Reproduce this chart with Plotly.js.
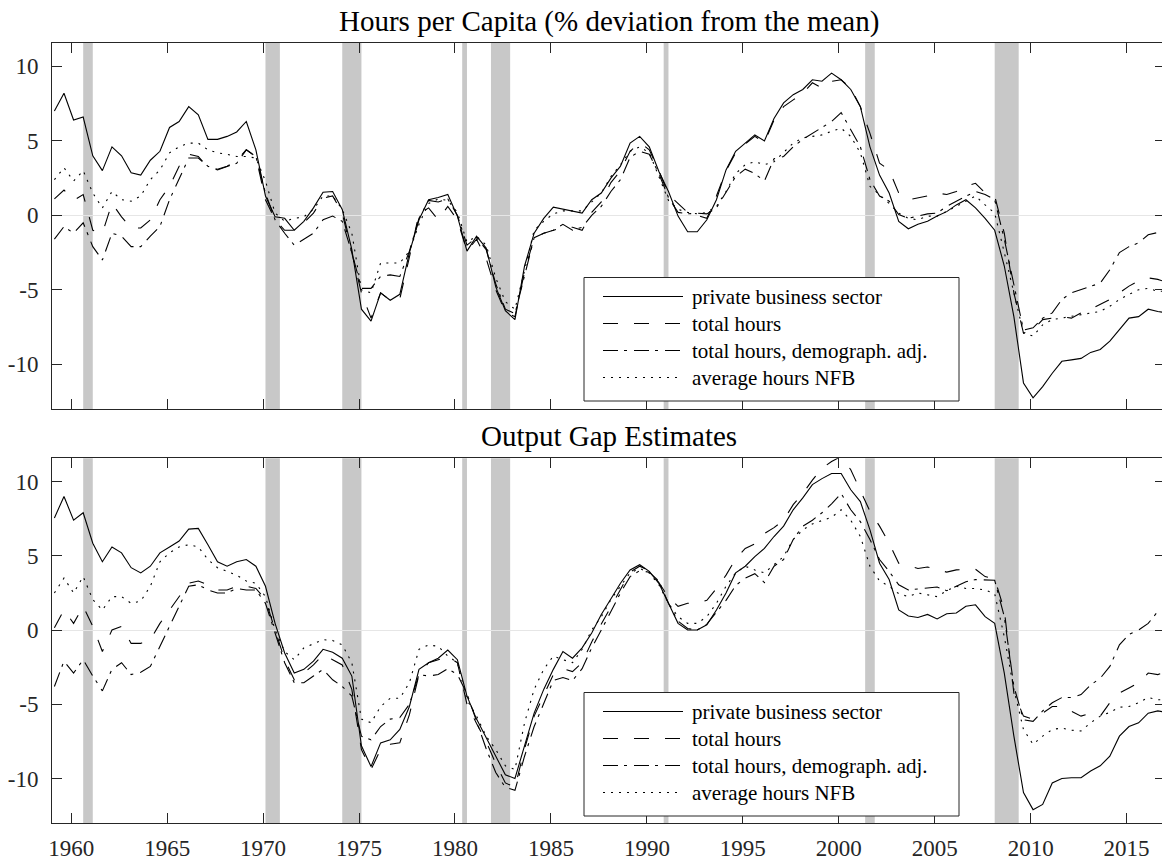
<!DOCTYPE html>
<html>
<head>
<meta charset="utf-8">
<script src="https://cdn.plot.ly/plotly-3.0.1.min.js"></script>
<style>
html,body{margin:0;padding:0;overflow:hidden;background:#fff}
#chart{width:1166px;height:861px}
</style>
</head>
<body>
<div id="chart"></div>
<script>
const dates = [
 1959.125,1959.625,1960.125,1960.625,1961.125,1961.625,1962.125,1962.625,1963.125,1963.625,
 1964.125,1964.625,1965.125,1965.625,1966.125,1966.625,1967.125,1967.625,1968.125,1968.625,
 1969.125,1969.625,1970.125,1970.625,1971.125,1971.625,1972.125,1972.625,1973.125,1973.625,
 1974.125,1974.625,1975.125,1975.625,1976.125,1976.625,
 1977.125,1977.625,1978.125,1978.625,1979.125,1979.625,1980.125,1980.625,1981.125,1981.625,
 1982.125,1982.625,1983.125,1983.625,1984.125,1984.625,1985.125,1985.625,1986.125,1986.625,
 1987.125,1987.625,1988.125,1988.625,1989.125,1989.625,1990.125,1990.625,1991.125,1991.625,
 1992.125,1992.625,1993.125,1993.625,1994.125,1994.625,1995.125,1995.625,1996.125,1996.625,
 1997.125,1997.625,1998.125,1998.625,1999.125,1999.625,2000.125,2000.625,2001.125,2001.625,
 2002.125,2002.625,2003.125,2003.625,2004.125,2004.625,2005.125,2005.625,2006.125,2006.625,
 2007.125,2007.625,2008.125,2008.625,2009.125,2009.625,2010.125,2010.625,2011.125,2011.625,
 2012.125,2012.625,2013.125,2013.625,2014.125,2014.625,2015.125,2015.625,2016.125,2016.625,
 2016.875
];

// Panel 1: Hours per capita (% deviation from the mean)
const hpcPrivate = [
 7.0,8.2,6.4,6.6,4.0,3.0,4.6,4.0,2.85,2.7,3.7,4.3,5.9,6.3,7.3,6.75,5.1,5.1,5.3,5.6,
 6.3,4.4,1.3,-0.1,-0.2,-1.0,-0.4,0.5,1.55,1.6,0.4,-2.3,-6.3,-7.1,-5.2,-5.7,
 -5.3,-2.5,-0.3,1.05,1.2,1.4,-0.05,-2.4,-1.4,-2.2,-4.8,-6.4,-7.0,-3.4,-1.2,-0.2,0.55,0.4,0.25,0.15,
 1.05,1.5,2.5,3.3,4.85,5.3,4.6,2.95,1.6,-0.05,-1.1,-1.1,-0.3,1.05,3.05,4.3,4.85,5.4,5.0,6.5,
 7.55,8.1,8.45,9.1,9.0,9.55,9.1,8.45,7.3,4.6,2.7,1.5,-0.4,-0.9,-0.6,-0.4,-0.05,0.25,0.7,1.05,
 0.5,-0.2,-1.0,-3.4,-6.8,-11.25,-12.25,-11.5,-10.6,-9.8,-9.7,-9.6,-9.2,-9.0,-8.45,-7.7,-6.9,-6.8,-6.3,-6.45,
 -6.5
];
const hpcTotal = [
 1.1,1.7,1.0,1.4,-1.0,-1.2,0.8,-0.1,-0.85,-0.85,-0.3,1.05,1.95,3.3,4.1,3.95,3.2,3.1,3.3,3.7,
 4.4,3.95,1.05,-0.3,-1.0,-1.0,-0.5,0.15,1.15,1.3,0.15,-2.5,-5.2,-6.9,-5.2,-5.7,
 -5.6,-2.8,0.1,0.5,-0.3,0.6,-0.3,-2.4,-1.6,-2.9,-5.0,-6.5,-6.8,-3.8,-1.5,-1.2,-1.0,-0.8,-0.8,-1.0,
 0.2,0.9,2.2,3.0,4.3,4.9,4.4,3.0,1.4,0.8,0.2,0.0,-0.2,1.3,3.0,4.2,4.8,5.3,4.9,6.4,
 7.3,7.75,8.2,8.9,8.55,9.0,9.1,8.55,7.3,5.5,3.5,3.05,1.5,1.05,1.15,1.3,1.5,1.4,1.6,1.95,
 2.15,1.5,1.3,-1.2,-5.2,-7.9,-7.7,-7.0,-6.9,-6.8,-6.9,-6.55,-6.3,-6.0,-5.65,-5.2,-4.75,-4.4,-4.2,-4.3,
 -4.4
];
const hpcDemog = [
 -1.6,-0.75,-1.2,-0.5,-2.1,-3.0,-1.2,-1.4,-2.1,-2.1,-1.4,-0.75,1.05,2.4,3.85,3.85,3.3,3.05,3.3,3.5,
 4.4,3.95,1.5,-0.3,-1.2,-2.0,-1.6,-1.2,-0.3,-0.05,-0.4,-2.5,-4.9,-4.9,-4.1,-4.0,
 -4.1,-2.4,-0.2,1.0,0.9,1.1,0.0,-2.0,-1.5,-2.3,-4.6,-6.3,-6.6,-4.0,-1.5,-1.2,-1.0,-0.6,-1.0,-0.8,
 0.0,0.6,1.6,2.4,3.9,4.3,4.1,2.8,1.2,0.2,0.1,0.15,0.1,0.5,1.6,2.6,3.1,2.8,2.3,3.8,
 3.95,4.6,5.1,5.5,5.85,6.3,6.9,5.75,4.6,2.4,1.3,0.95,0.05,-0.2,-0.05,0.1,0.15,0.6,0.95,1.3,
 1.6,1.4,1.05,-1.6,-4.55,-7.7,-7.55,-6.9,-6.55,-5.65,-5.2,-5.0,-4.75,-4.55,-3.65,-2.5,-2.1,-1.85,-1.3,-1.15,
 -1.2
];
const hpcNFB = [
 2.4,3.2,2.3,3.0,1.5,0.5,1.6,1.05,0.95,1.3,2.4,3.05,4.2,4.6,4.85,4.85,4.4,4.2,4.1,3.95,
 3.95,3.85,2.3,0.15,-0.4,-0.2,-0.1,0.4,1.3,1.3,0.4,-1.2,-5.0,-5.2,-3.2,-3.2,
 -3.2,-2.4,-0.6,0.8,1.1,1.0,0.2,-1.8,-1.4,-2.0,-4.2,-5.8,-6.3,-3.7,-1.0,-0.4,0.1,0.3,0.3,0.3,
 0.9,1.5,2.6,3.4,4.3,4.6,4.2,2.6,1.0,0.4,0.2,0.1,0.2,0.6,1.6,2.8,3.4,3.6,3.4,3.6,
 4.2,4.85,5.2,5.3,5.4,5.65,5.85,5.3,4.2,1.95,1.4,0.8,0.15,-0.2,-0.3,-0.05,-0.05,0.25,0.6,0.95,
 1.3,0.7,0.15,-2.5,-5.2,-7.9,-8.1,-7.35,-7.0,-6.9,-6.8,-6.65,-6.55,-6.45,-6.1,-5.65,-5.3,-5.0,-4.9,-5.1,
 -5.1
];

// Panel 2: Output gap estimates
const gapPrivate = [
 7.55,9.0,7.4,7.9,5.85,4.6,5.6,5.2,4.2,3.85,4.3,5.2,5.6,6.0,6.8,6.85,5.75,4.6,4.3,4.6,
 4.75,4.3,2.95,0.45,-1.55,-2.9,-2.65,-2.1,-1.3,-1.5,-1.9,-3.1,-7.8,-9.2,-7.6,-7.4,
 -6.7,-5.15,-2.65,-2.2,-1.9,-1.35,-2.0,-4.45,-6.0,-7.25,-8.6,-9.75,-10.0,-7.8,-5.6,-4.0,-2.65,-1.45,-1.9,-1.2,
 -0.2,1.05,2.15,3.15,4.05,4.4,3.95,3.15,1.8,0.45,0.0,0.0,0.35,1.35,2.5,3.85,4.3,4.95,5.5,6.3,
 7.0,8.1,8.9,9.8,10.2,10.55,10.55,9.45,8.65,6.75,4.5,3.4,1.35,0.95,0.85,1.05,0.75,1.1,1.15,1.6,
 1.7,0.9,0.45,-2.9,-7.15,-10.95,-12.1,-11.75,-10.3,-10.0,-9.95,-9.95,-9.5,-9.15,-8.5,-7.15,-6.5,-6.25,-5.6,-5.45,
 -5.5
];
const gapTotal = [
 0.15,1.35,0.45,1.6,0.25,-1.45,0.0,0.25,-0.9,-0.9,-0.65,0.45,1.35,2.25,3.15,3.3,3.05,2.7,2.7,2.95,
 2.95,2.8,2.05,0.0,-2.0,-3.35,-2.9,-2.35,-1.65,-2.0,-2.35,-4.0,-8.05,-9.4,-8.05,-7.7,
 -7.6,-5.7,-3.0,-2.2,-2.0,-1.8,-2.2,-5.0,-6.3,-7.5,-9.0,-10.3,-10.6,-8.0,-5.8,-4.4,-3.0,-2.6,-2.8,-2.2,
 -0.8,0.4,1.6,2.8,3.9,4.3,4.0,3.2,2.2,1.6,1.8,1.8,2.0,2.8,3.7,4.8,5.5,5.8,6.5,6.9,
 7.4,8.45,9.2,10.1,10.9,11.35,11.7,10.8,9.45,8.0,7.0,5.85,4.5,4.3,4.15,4.25,4.05,3.9,4.05,4.05,
 4.1,3.6,3.45,1.35,-4.25,-5.8,-6.0,-5.6,-5.15,-5.15,-5.5,-5.8,-5.6,-5.8,-4.9,-4.25,-3.9,-3.55,-2.9,-3.0,
 -2.9
];
const gapDemog = [
 -3.8,-2.1,-2.9,-2.0,-3.1,-4.1,-2.65,-2.2,-3.0,-2.85,-2.45,-1.1,0.25,1.6,2.95,3.05,2.7,2.5,2.5,2.8,
 2.7,2.7,1.8,-0.2,-2.2,-3.55,-3.55,-3.1,-2.65,-3.35,-3.8,-4.45,-7.15,-7.4,-6.5,-6.0,
 -5.9,-5.0,-3.0,-3.1,-3.0,-2.6,-3.0,-4.3,-6.2,-8.0,-9.6,-10.6,-10.8,-8.5,-6.5,-5.0,-3.4,-3.2,-3.4,-2.6,
 -1.2,0.0,1.3,2.5,3.6,4.0,3.9,3.3,1.8,0.6,0.1,0.0,0.4,1.2,2.0,3.0,3.5,3.8,3.2,4.3,
 4.75,6.1,7.0,7.4,7.9,8.5,9.2,8.1,7.3,6.1,4.75,3.95,3.05,2.7,2.75,2.8,2.9,2.65,2.95,3.25,
 3.4,3.4,3.35,0.9,-3.8,-6.05,-6.15,-5.45,-4.9,-4.55,-4.55,-4.35,-3.7,-3.25,-2.45,-1.0,-0.3,0.0,0.45,1.25,
 1.3
];
const gapNFB = [
 2.5,3.5,2.5,3.6,2.05,1.35,2.25,2.25,1.8,1.95,2.95,4.6,5.2,5.6,5.75,5.6,4.75,4.2,3.95,3.7,
 3.3,3.15,2.25,0.0,-1.45,-2.0,-1.2,-0.9,-0.65,-0.7,-1.0,-2.2,-6.0,-6.25,-5.15,-4.6,
 -4.6,-3.55,-1.3,-1.0,-1.1,-1.75,-2.2,-4.7,-5.8,-7.15,-8.05,-9.15,-9.4,-6.25,-4.0,-2.65,-1.75,-2.0,-2.2,-1.3,
 0.0,0.9,2.05,2.95,3.85,4.15,3.85,3.05,1.8,0.9,0.45,0.45,0.9,1.8,2.95,3.85,4.3,4.05,3.85,4.4,
 4.95,6.1,6.75,7.15,7.4,7.6,8.1,7.4,6.3,4.3,3.3,2.95,2.45,2.25,2.5,2.4,2.25,2.65,2.95,2.8,
 2.8,2.7,2.45,-0.45,-4.0,-6.7,-7.7,-7.15,-6.7,-6.6,-6.75,-6.8,-6.25,-5.8,-5.55,-5.2,-5.15,-4.9,-4.55,-4.7,
 -4.7
];

// Recession periods (shaded)
const recessionStart = [1960.625, 1970.125, 1974.125, 1980.375, 1981.875, 1990.875, 2001.375, 2008.125];
const recessionEnd   = [1961.125, 1970.875, 1975.125, 1980.625, 1982.875, 1991.125, 2001.875, 2009.375];

// Labels
const legendLabels = ['private business sector', 'total hours', 'total hours, demograph. adj.', 'average hours NFB'];
const panelTitles = ['Hours per Capita (% deviation from the mean)', 'Output Gap Estimates'];
const xTickVals = [1960, 1965, 1970, 1975, 1980, 1985, 1990, 1995, 2000, 2005, 2010, 2015];
const xTickText = ['1960', '1965', '1970', '1975', '1980', '1985', '1990', '1995', '2000', '2005', '2010', '2015'];
const yTickVals = [-10, -5, 0, 5, 10];
const yTickText = ['-10', '-5', '0', '5', '10'];

// ---- layout geometry ----
const W = 1166, H = 861;
const M = {l: 52, r: 1, t: 43, b: 38, pad: 0};
const plotW = W - M.l - M.r, plotH = H - M.t - M.b;
const px2x = px => (px - M.l) / plotW;
const px2y = py => (H - M.b - py) / plotH;

const FONT = '"Liberation Serif", "Times New Roman", Times, serif';
const INK = '#262626';
const dashes = ['solid', '15px,16px', '15px,6px,3px,7px', '2px,6px'];
const LW = 1.1;

const panels = [
  {series: [hpcPrivate, hpcTotal, hpcDemog, hpcNFB], xa: 'x', ya: 'y', title: panelTitles[0], titleY: 21, legendTop: 277.5},
  {series: [gapPrivate, gapTotal, gapDemog, gapNFB], xa: 'x2', ya: 'y2', title: panelTitles[1], titleY: 436, legendTop: 692.5}
];

const traces = [];
const shapes = [];
const annotations = [];

panels.forEach(p => {
  p.series.forEach((vals, i) => {
    traces.push({
      type: 'scatter', mode: 'lines', x: dates, y: vals,
      xaxis: p.xa, yaxis: p.ya, name: legendLabels[i], showlegend: false,
      hoverinfo: 'skip',
      line: {color: '#000', width: LW, dash: dashes[i]}
    });
  });
  recessionStart.forEach((s, j) => {
    shapes.push({
      type: 'rect', xref: p.xa, yref: p.ya + ' domain',
      x0: s, x1: recessionEnd[j], y0: 0, y1: 1,
      fillcolor: '#c8c8c8', line: {width: 0}, layer: 'below'
    });
  });
  // legend box
  const top = p.legendTop;
  shapes.push({
    type: 'rect', xref: 'paper', yref: 'paper',
    x0: px2x(584), x1: px2x(959), y0: px2y(top + 123.5), y1: px2y(top),
    fillcolor: '#ffffff', line: {color: INK, width: 1}, layer: 'above'
  });
  legendLabels.forEach((lab, i) => {
    const yy = top + 19 + 27 * i;
    shapes.push({
      type: 'line', xref: 'paper', yref: 'paper',
      x0: px2x(603), x1: px2x(683), y0: px2y(yy), y1: px2y(yy),
      line: {color: '#000', width: LW, dash: dashes[i]}, layer: 'above'
    });
    annotations.push({
      text: lab, xref: 'paper', yref: 'paper', x: px2x(690), y: px2y(yy),
      xanchor: 'left', yanchor: 'middle', showarrow: false,
      font: {family: FONT, size: 21, color: '#000'}
    });
  });
  annotations.push({
    text: p.title, xref: 'paper', yref: 'paper', x: 0.5, y: px2y(p.titleY),
    xanchor: 'center', yanchor: 'middle', showarrow: false,
    font: {family: FONT, size: 29, color: '#000'}
  });
});

function xAxis(anchor, labels) {
  return {
    anchor: anchor, domain: [0, 1], range: [1959, 2017],
    tickmode: 'array', tickvals: xTickVals, ticktext: xTickText,
    showticklabels: labels, ticks: 'inside', ticklen: 10, tickwidth: 1, tickcolor: INK,
    showline: true, linecolor: INK, linewidth: 1, mirror: 'ticks',
    showgrid: false, zeroline: false,
    tickfont: {family: FONT, size: 23, color: INK},
    ticklabelstandoff: 4
  };
}
function yAxis(anchor, domain) {
  return {
    anchor: anchor, domain: domain, range: [-13, 11.57],
    tickmode: 'array', tickvals: yTickVals, ticktext: yTickText,
    ticks: 'inside', ticklen: 10, tickwidth: 1, tickcolor: INK,
    showline: true, linecolor: INK, linewidth: 1, mirror: 'ticks',
    showgrid: false, zeroline: true, zerolinecolor: '#e6e6e6', zerolinewidth: 1,
    tickfont: {family: FONT, size: 23, color: INK},
    ticklabelstandoff: 8
  };
}

const layout = {
  width: W, height: H, margin: M,
  paper_bgcolor: '#ffffff', plot_bgcolor: '#ffffff',
  showlegend: false,
  xaxis: xAxis('y', false),
  yaxis: yAxis('x', [px2y(409), 1]),
  xaxis2: xAxis('y2', true),
  yaxis2: yAxis('x2', [0, px2y(458.3)]),
  shapes: shapes,
  annotations: annotations
};

Plotly.newPlot('chart', traces, layout, {staticPlot: true, displayModeBar: false});
</script>
</body>
</html>
